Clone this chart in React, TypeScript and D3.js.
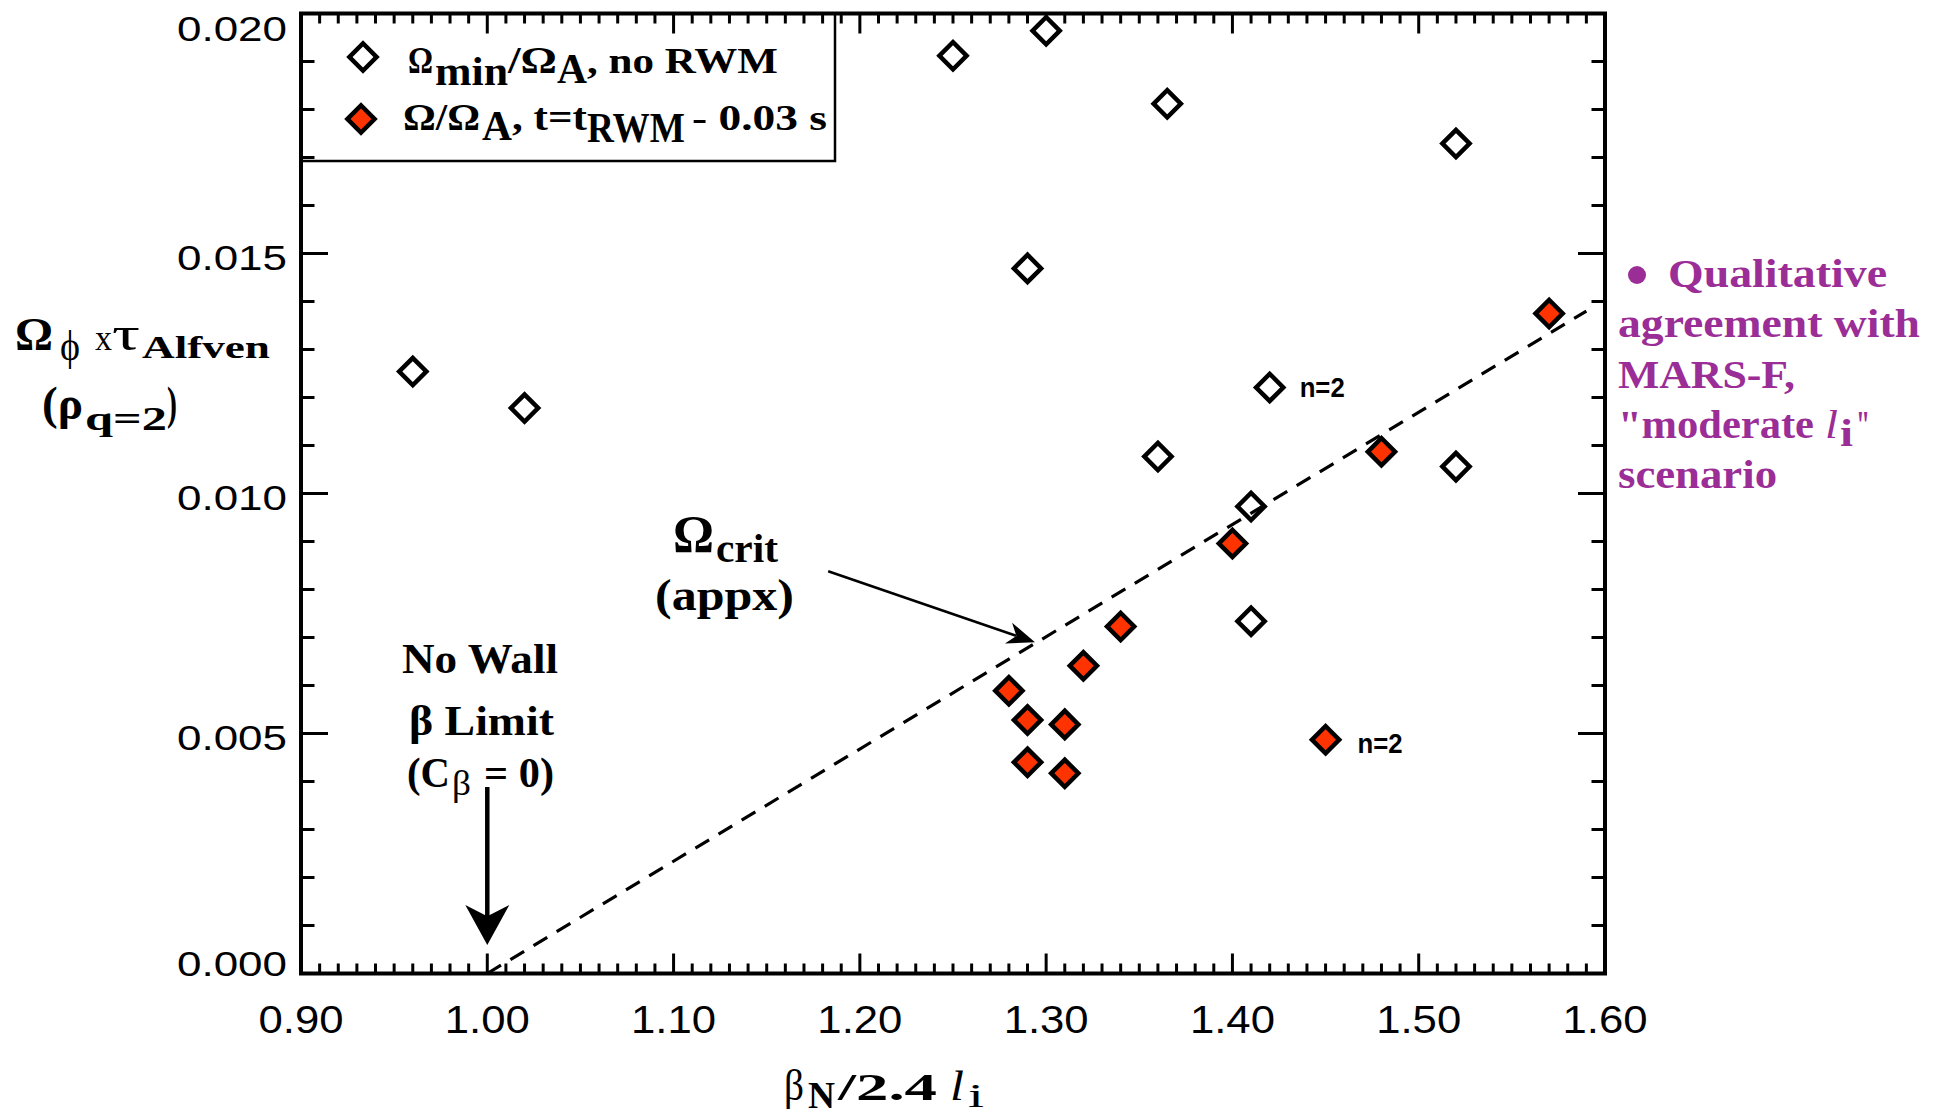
import React from "react";
import * as d3 from "d3";

// ---- data ----
const hollowX = [0.96, 1.02, 1.25, 1.30, 1.365, 1.52, 1.29, 1.42, 1.36, 1.52, 1.41, 1.41];
const hollowY = [0.01254, 0.01178, 0.01912, 0.01964, 0.01812, 0.01729, 0.01469, 0.01221, 0.01077, 0.01056, 0.00973, 0.00734];
const redX = [1.57, 1.48, 1.40, 1.34, 1.32, 1.28, 1.29, 1.31, 1.29, 1.31, 1.45];
const redY = [0.01375, 0.01087, 0.00896, 0.00723, 0.00641, 0.00589, 0.00528, 0.00519, 0.00440, 0.00417, 0.00487];
const critX = [1.0, 1.59];
const critY = [0.0, 0.0138];
const xTicks = [0.9, 1.0, 1.1, 1.2, 1.3, 1.4, 1.5, 1.6];
const xTickLabels = ["0.90", "1.00", "1.10", "1.20", "1.30", "1.40", "1.50", "1.60"];
const yTicks = [0, 0.005, 0.01, 0.015, 0.02];
const yTickLabels = ["0.000", "0.005", "0.010", "0.015", "0.020"];
const n2Labels = [
  { x: 1.42, y: 0.01221, dx: 30, dy: 10 },
  { x: 1.45, y: 0.00487, dx: 32, dy: 13 },
];

const SERIF = '"Liberation Serif", "DejaVu Serif", serif';
const SANS = '"Liberation Sans", Arial, sans-serif';
const RED = "#ff3300";
const PURPLE = "#9b2d96";

function T(props: any) {
  const { x, y, w, size, children, weight = "bold", italic = false, family = SERIF, anchor = "start", fill = "#000" } = props;
  return (
    <text
      x={x}
      y={y}
      fontSize={size}
      fontWeight={weight}
      fontStyle={italic ? "italic" : "normal"}
      fontFamily={family}
      textAnchor={anchor}
      fill={fill}
      textLength={w}
      lengthAdjust="spacingAndGlyphs"
    >
      {children}
    </text>
  );
}

function arrowHead(x1: number, y1: number, x2: number, y2: number, L: number, Wd: number, notch: number) {
  const a = Math.atan2(y2 - y1, x2 - x1);
  const c = Math.cos(a), s = Math.sin(a);
  const pt = (u: number, v: number) => [x2 + u * c - v * s, y2 + u * s + v * c];
  const p = [pt(0, 0), pt(-L, -Wd / 2), pt(-L * notch, 0), pt(-L, Wd / 2)];
  return "M" + p.map((q) => q[0].toFixed(1) + "," + q[1].toFixed(1)).join("L") + "Z";
}

export default function App() {
  const x = d3.scaleLinear().domain([0.9, 1.6]).range([301, 1605]);
  const y = d3.scaleLinear().domain([0, 0.02]).range([973.5, 13.5]);
  const x0 = 301, x1 = 1605, yTop = 13.5, yBot = 973.5;

  const diamond = d3.symbol(d3.symbolSquare, 370)() as string;

  const xMinor = d3.range(0, 71).filter((i) => i % 10 !== 0).map((i) => 0.9 + i * 0.01);
  const yMinor = d3.range(0, 21).filter((i) => i % 5 !== 0).map((i) => i * 0.001);

  const line = d3.line<number>().x((d) => x(d)).y((_, i) => y(critY[i]));

  // Omega_crit arrow
  const aX1 = x(1.183), aY1 = y(0.00838), aX2 = x(1.294), aY2 = y(0.0069);
  const aAng = Math.atan2(aY2 - aY1, aX2 - aX1);
  // No-wall arrow
  const nwX = x(1.0), nwY1 = 787, nwY2 = y(0.000594);

  return (
    <svg width={1940} height={1118} style={{ position: "absolute", left: 0, top: 0, background: "#fff" }}>
      <rect x={0} y={0} width={1940} height={1118} fill="#fff" />

      {/* legend box */}
      <rect x={x0} y={yTop} width={534} height={147.5} fill="#fff" stroke="#000" strokeWidth={2.5} />

      {/* ticks */}
      <g stroke="#000" strokeWidth={3}>
        {xMinor.map((v, i) => (
          <g key={"xm" + i}>
            <line x1={x(v)} x2={x(v)} y1={yBot} y2={yBot - 10} />
            <line x1={x(v)} x2={x(v)} y1={yTop} y2={yTop + 10} />
          </g>
        ))}
        {xTicks.map((v, i) => (
          <g key={"xM" + i}>
            <line x1={x(v)} x2={x(v)} y1={yBot} y2={yBot - 20} />
            <line x1={x(v)} x2={x(v)} y1={yTop} y2={yTop + 20} />
          </g>
        ))}
        {yMinor.map((v, i) => (
          <g key={"ym" + i}>
            <line x1={x0} x2={x0 + 13.5} y1={y(v)} y2={y(v)} />
            <line x1={x1} x2={x1 - 13.5} y1={y(v)} y2={y(v)} />
          </g>
        ))}
        {yTicks.map((v, i) => (
          <g key={"yM" + i}>
            <line x1={x0} x2={x0 + 27} y1={y(v)} y2={y(v)} />
            <line x1={x1} x2={x1 - 27} y1={y(v)} y2={y(v)} />
          </g>
        ))}
      </g>

      {/* frame */}
      <rect x={x0} y={yTop} width={x1 - x0} height={yBot - yTop} fill="none" stroke="#000" strokeWidth={4} />

      {/* tick labels */}
      {xTicks.map((v, i) => (
        <T key={"xl" + i} x={x(v)} y={1033} w={85} size={39} weight="normal" family={SANS} anchor="middle">
          {xTickLabels[i]}
        </T>
      ))}
      {yTicks.map((v, i) => (
        <T
          key={"yl" + i}
          x={287}
          y={y(v) + (i === yTicks.length - 1 ? 27 : i === 0 ? 2 : 16)}
          w={110}
          size={35}
          weight="normal"
          family={SANS}
          anchor="end"
        >
          {yTickLabels[i]}
        </T>
      ))}

      {/* points */}
      {hollowX.map((v, i) => (
        <path key={"h" + i} d={diamond} transform={`translate(${x(v)},${y(hollowY[i])}) rotate(45)`} fill="#fff" stroke="#000" strokeWidth={4.5} />
      ))}
      {redX.map((v, i) => (
        <path key={"r" + i} d={diamond} transform={`translate(${x(v)},${y(redY[i])}) rotate(45)`} fill={RED} stroke="#000" strokeWidth={4.5} />
      ))}

      {/* critical rotation line */}
      <path d={line(critX) as string} fill="none" stroke="#000" strokeWidth={3.2} strokeDasharray="16 11" />

      {/* n=2 labels */}
      {n2Labels.map((d, i) => (
        <T key={"n" + i} x={x(d.x) + d.dx} y={y(d.y) + d.dy} w={45} size={28} family={SANS}>
          n=2
        </T>
      ))}

      {/* legend */}
      <path d={diamond} transform="translate(363,57) rotate(45)" fill="#fff" stroke="#000" strokeWidth={4.5} />
      <path d={diamond} transform="translate(361,119) rotate(45)" fill={RED} stroke="#000" strokeWidth={4.5} />
      <T x={408} y={73} w={25} size={38}>Ω</T>
      <T x={435} y={85} w={73} size={40}>min</T>
      <T x={508} y={73} w={49} size={38}>/Ω</T>
      <T x={557} y={83} w={30} size={43}>A</T>
      <T x={587} y={73} w={191} size={36}>, no RWM</T>
      <T x={403} y={130} w={77} size={38}>Ω/Ω</T>
      <T x={482} y={140} w={30} size={43}>A</T>
      <T x={512} y={130} w={75} size={38}>, t=t</T>
      <T x={587} y={142} w={98} size={43}>RWM</T>
      <T x={692} y={130} w={135} size={36}>- 0.03 s</T>

      {/* y axis title */}
      <T x={15} y={350} w={38} size={46}>Ω</T>
      <T x={60} y={360} w={20} size={42} weight="normal">ϕ</T>
      <T x={95} y={350} w={17} size={36} weight="normal">x</T>
      <T x={112} y={350} w={28} size={48} weight="normal">τ</T>
      <T x={142} y={358} w={128} size={32}>Alfven</T>
      <T x={42} y={419} w={41} size={46}>(ρ</T>
      <T x={85} y={430} w={82} size={33}>q=2</T>
      <T x={167} y={419} w={10} size={46}>)</T>

      {/* x axis title */}
      <T x={784} y={1100} w={20} size={44} weight="normal">β</T>
      <T x={808} y={1108} w={27} size={38}>N</T>
      <T x={838} y={1100} w={99} size={38}>/2.4</T>
      <T x={950} y={1100} w={14} size={42} italic weight="normal">l</T>
      <T x={968} y={1107} w={16} size={34} weight="normal">i</T>

      {/* Omega crit annotation */}
      <T x={673} y={552} w={41} size={52}>Ω</T>
      <T x={716} y={562} w={62} size={40}>crit</T>
      <T x={655} y={610} w={139} size={44}>(appx)</T>
      <line x1={aX1} y1={aY1} x2={aX2 - 20 * Math.cos(aAng)} y2={aY2 - 20 * Math.sin(aAng)} stroke="#000" strokeWidth={2.5} />
      <path d={arrowHead(aX1, aY1, aX2, aY2, 28, 22, 0.7)} fill="#000" />

      {/* no wall annotation */}
      <T x={402} y={673} w={156} size={43}>No Wall</T>
      <T x={409} y={735} w={145} size={43}>β Limit</T>
      <T x={407} y={787} w={43} size={43}>(C</T>
      <T x={452} y={795} w={19} size={36} weight="normal">β</T>
      <T x={484} y={787} w={70} size={43}>= 0)</T>
      <line x1={nwX} y1={nwY1} x2={nwX} y2={nwY2 - 25} stroke="#000" strokeWidth={4.5} />
      <path d={arrowHead(nwX, nwY1, nwX, nwY2, 40, 44, 0.72)} fill="#000" />

      {/* right side note */}
      <circle cx={1637} cy={275} r={9} fill={PURPLE} />
      <T x={1668} y={287} w={219} size={40} fill={PURPLE}>Qualitative</T>
      <T x={1618} y={337} w={302} size={40} fill={PURPLE}>agreement with</T>
      <T x={1618} y={388} w={177} size={40} fill={PURPLE}>MARS-F,</T>
      <T x={1618} y={438} w={196} size={40} fill={PURPLE}>"moderate</T>
      <T x={1825} y={438} w={13} size={40} italic weight="normal" fill={PURPLE}>l</T>
      <T x={1840} y={446} w={13} size={38} fill={PURPLE}>i</T>
      <T x={1856} y={438} w={14} size={40} fill={PURPLE}>"</T>
      <T x={1618} y={488} w={159} size={40} fill={PURPLE}>scenario</T>
    </svg>
  );
}
